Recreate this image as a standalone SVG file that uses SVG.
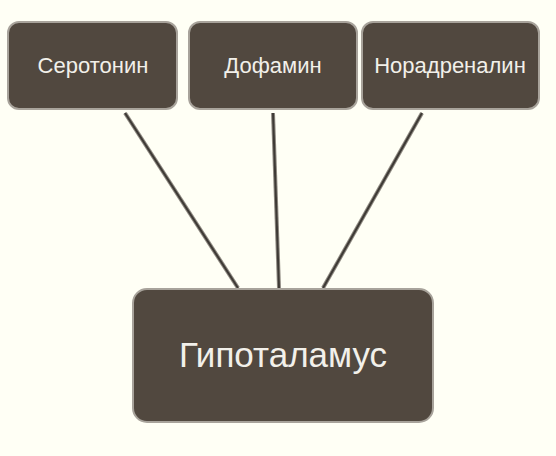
<svg xmlns="http://www.w3.org/2000/svg" width="556" height="456" viewBox="0 0 556 456">
<style>
.box{fill:#51483f;stroke:#a8a39b;stroke-width:2}
.lbl{font-family:"Liberation Sans",Arial,sans-serif;fill:#f2f0ea;text-anchor:middle}
.edge-o{stroke:#8f8a82;stroke-width:4;stroke-linecap:butt}
.edge-i{stroke:#3e3a35;stroke-width:2;stroke-linecap:butt}
</style>
<rect width="556" height="456" fill="#fffff5"/>
<g id="connectors">
<line class="edge-o" x1="125" y1="113" x2="238" y2="288"/>
<line class="edge-o" x1="273" y1="113" x2="279" y2="288"/>
<line class="edge-o" x1="422" y1="113" x2="323" y2="288"/>
<line class="edge-i" x1="125" y1="113" x2="238" y2="288"/>
<line class="edge-i" x1="273" y1="113" x2="279" y2="288"/>
<line class="edge-i" x1="422" y1="113" x2="323" y2="288"/>
</g>
<g id="serotonin">
<rect class="box" x="8" y="22" width="169" height="87" rx="11"/>
<text class="lbl" x="93" y="73" font-size="22">Серотонин</text>
</g>
<g id="dofamin">
<rect class="box" x="189" y="22" width="168" height="87" rx="11"/>
<text class="lbl" x="273" y="73" font-size="22">Дофамин</text>
</g>
<g id="noradrenalin">
<rect class="box" x="362" y="22" width="177" height="87" rx="11"/>
<text class="lbl" x="450" y="73" font-size="22">Норадреналин</text>
</g>
<g id="gipotalamus">
<rect class="box" x="133" y="289" width="300" height="133" rx="14"/>
<text class="lbl" x="283" y="367" font-size="35">Гипоталамус</text>
</g>
</svg>
